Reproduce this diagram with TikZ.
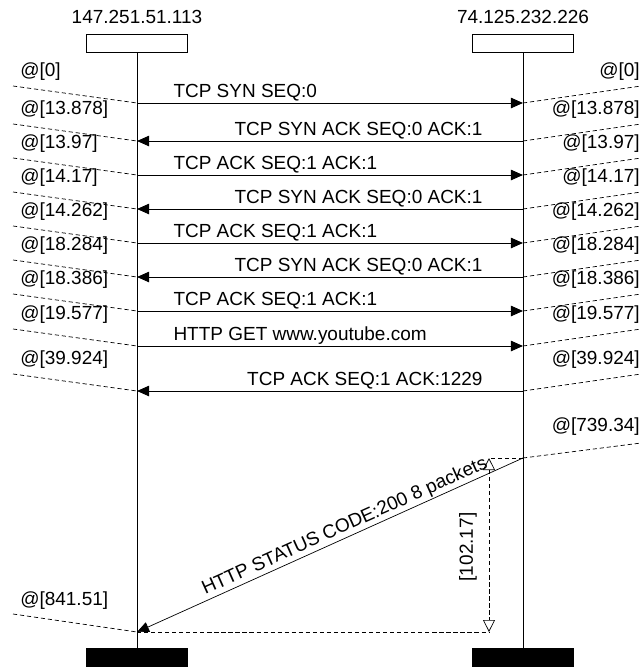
\documentclass[tikz,border=0pt]{standalone}
\usepackage{fontspec}
\setmainfont{Liberation Sans}
\usepackage{tikz}
\usetikzlibrary{arrows.meta, positioning}

\begin{document}
\begin{tikzpicture}[
    x=0.025cm, y=-0.025cm,
    font=\fontsize{13.5}{16}\selectfont,
    head/.style={rectangle, draw, line width=0.7pt, minimum width=2.525cm, minimum height=0.45cm, inner sep=0},
    foot/.style={head, fill=black},
    lifeline/.style={line width=0.7pt},
    msg/.style={line width=0.7pt, -{Triangle[length=0.3cm, width=0.26cm]}},
    timeline/.style={line width=0.5pt, dash pattern=on 3pt off 2pt},
    measure/.style={timeline, {Triangle[open, length=0.3cm, width=0.3cm]}-{Triangle[open, length=0.3cm, width=0.3cm]}},
    lblA/.style={pos=0, anchor=base west, inner sep=0, xshift=0.9cm, yshift=0.15cm},
    lblB/.style={pos=0, anchor=base east, inner sep=0, xshift=-1cm, yshift=0.15cm},
    stampA/.style={anchor=base west, inner sep=0},
    stampB/.style={anchor=base east, inner sep=0}
]
\useasboundingbox (0,0) rectangle (641,667);

% instances
\node (nameA) at (137,17) {147.251.51.113};
\node (nameB) at (523,17) {74.125.232.226};
\node[head] (headA) at (137,43) {};
\node[head] (headB) at (523,43) {};
\node[foot] (footA) at (137,657) {};
\node[foot] (footB) at (523,657) {};
\draw[lifeline] (headA) -- (footA);
\draw[lifeline] (headB) -- (footB);

% time stamps on both sides
\foreach \y/\t [count=\i] in {103/0, 141/13.878, 175/13.97, 209/14.17, 243/14.262,
                              277/18.284, 311/18.386, 346/19.577, 391/39.924} {
    \coordinate (a\i) at (137,\y);
    \coordinate (b\i) at (523,\y);
    \coordinate (ta\i) at (13,\y-17);
    \coordinate (tb\i) at (641,\y-17);
    \draw[timeline] (ta\i) -- (a\i);
    \draw[timeline] (b\i) -- (tb\i);
    \node[stampA] (sa\i) at (20,\y-27) {@[\t]};
    \node[stampB] (sb\i) at (640,\y-27) {@[\t]};
}

% messages
\draw[msg] (a1) -- node[lblA] {TCP SYN SEQ:0} (b1);
\draw[msg] (b2) -- node[lblB] {TCP SYN ACK SEQ:0 ACK:1} (a2);
\draw[msg] (a3) -- node[lblA] {TCP ACK SEQ:1 ACK:1} (b3);
\draw[msg] (b4) -- node[lblB] {TCP SYN ACK SEQ:0 ACK:1} (a4);
\draw[msg] (a5) -- node[lblA] {TCP ACK SEQ:1 ACK:1} (b5);
\draw[msg] (b6) -- node[lblB] {TCP SYN ACK SEQ:0 ACK:1} (a6);
\draw[msg] (a7) -- node[lblA] {TCP ACK SEQ:1 ACK:1} (b7);
\draw[msg] (a8) -- node[lblA] {HTTP GET www.youtube.com} (b8);
\draw[msg] (b9) -- node[lblB] {TCP ACK SEQ:1 ACK:1229} (a9);

% the long reply
\coordinate (b10) at (523,458);
\coordinate (a10) at (137,632);
\coordinate (tb10) at (641,443);
\coordinate (ta10) at (13,614);
\draw[timeline] (b10) -- (tb10);
\draw[timeline] (ta10) -- (a10);
\node[stampB] (sb10) at (640,431) {@[739.34]};
\node[stampA] (sa10) at (20,605) {@[841.51]};
\draw[msg, line width=0.5pt] (b10) -- node[sloped, above=1pt, pos=0.45, inner sep=0] {HTTP STATUS CODE:200 8 packets} (a10);

% measure
\coordinate (m1) at (489,458);
\coordinate (m2) at (489,632);
\draw[timeline] (b10) -- (m1);
\draw[timeline] (a10) -- (m2);
\draw[measure] (m1) -- (m2);
\node[rotate=90] (dur) at (468,547) {[102.17]};

\end{tikzpicture}
\end{document}
